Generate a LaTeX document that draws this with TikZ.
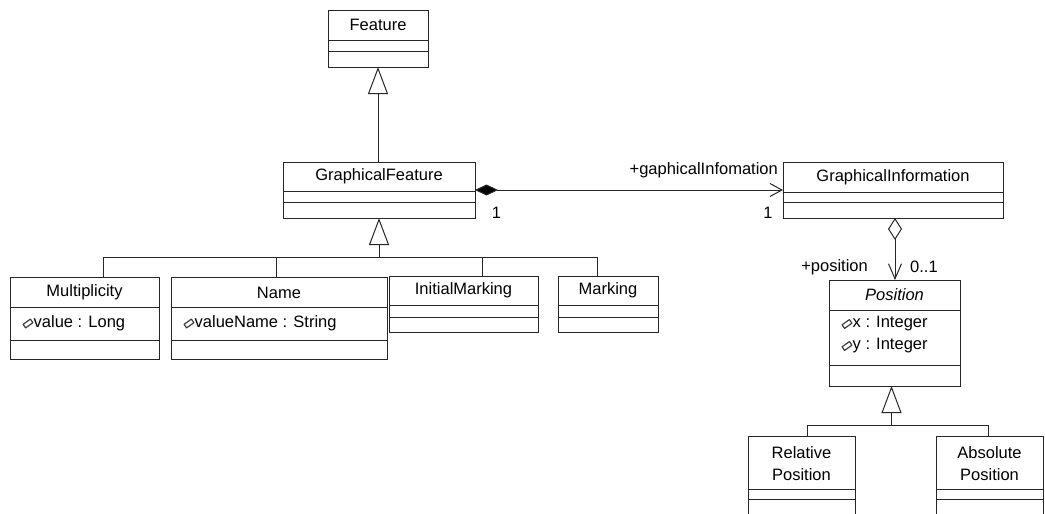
\documentclass[tikz,border=0pt]{standalone}
\usepackage{fontspec}
\setmainfont{Liberation Sans}
\usetikzlibrary{arrows.meta}

\tikzset{
  cls/.style={draw=black!85, line width=1pt, rectangle, inner sep=0pt, outer sep=0pt, fill=white},
  sep/.style={draw=black!85, line width=1pt},
  line/.style={draw=black!85, line width=1pt},
  gen/.style={line, -{Triangle[open, length=27pt, width=20pt, line width=1pt]}},
  txt/.style={inner sep=0pt, font=\fontsize{16.5}{20}\selectfont, text=black},
  attricon/.style={draw=black!75, line width=1.2pt, fill=white, line join=round},
}

% class box: name, x, y, width, height, first separator, second separator
\newcommand\umlbox[7]{%
  \node[cls, minimum width=#4pt, minimum height=#5pt, anchor=north west] (#1) at (#2,#3) {};
  \draw[sep] ([yshift=-#6pt]#1.north west) -- ([yshift=-#6pt]#1.north east);
  \draw[sep] ([yshift=-#7pt]#1.north west) -- ([yshift=-#7pt]#1.north east);
}
% public attribute marker centred on a point
\newcommand\attrmark[2]{%
  \path[attricon, shift={(#1,#2)}] (4.9,-0.8) -- (2.4,-4.4) -- (-4.9,0.8) -- (-2.4,4.4) -- cycle;
}

\begin{document}
\begin{tikzpicture}[x=1pt, y=-1pt]
\useasboundingbox (0,0) rectangle (1045,514);

% classes
\umlbox{feat}{328}{10}{100}{57}{30}{41}
\umlbox{gf}{283}{162}{192}{56}{29}{40}
\umlbox{gi}{783}{162}{220}{56}{30}{40}
\umlbox{mult}{10}{277}{149}{82}{30}{63}
\umlbox{name}{171}{277}{216}{82}{30}{63}
\umlbox{init}{389}{276}{149}{56}{29}{41}
\umlbox{mark}{558}{276}{100}{56}{29}{41}
\umlbox{pos}{829}{280}{131}{106}{30}{85}
\umlbox{rel}{748}{436}{107}{80}{53}{63}
\umlbox{abs}{936}{436}{107}{80}{53}{63}

% class names
\node[txt] (tFeat) at (378,25) {Feature};
\node[txt] (tGf) at (379,176.5) {GraphicalFeature};
\node[txt] (tGi) at (893,177) {GraphicalInformation};
\node[txt] (tMult) at (84.5,292.5) {Multiplicity};
\node[txt] (tName) at (279,292.5) {Name};
\node[txt] (tInit) at (463.5,290.5) {InitialMarking};
\node[txt] (tMark) at (608,290.5) {Marking};
\node[txt, font=\fontsize{16.5}{20}\selectfont\itshape] (tPos) at (894.5,295) {Position};
\node[txt, align=center, font=\fontsize{16.5}{22}\selectfont] (tRel) at (801.5,464) {Relative\\Position};
\node[txt, align=center, font=\fontsize{16.5}{22}\selectfont] (tAbs) at (989.5,464) {Absolute\\Position};

% attributes
\attrmark{28}{323.5}
\node[txt, anchor=west] (aMult) at (33.5,323) {value : Long};
\attrmark{189}{323.5}
\node[txt, anchor=west] (aName) at (194.5,323) {valueName : String};
\attrmark{847}{324}
\node[txt, anchor=west] (aPx) at (852.5,323.5) {x : Integer};
\attrmark{847}{346}
\node[txt, anchor=west] (aPy) at (852.5,345.5) {y : Integer};

% generalization: Feature <- GraphicalFeature
\draw[gen] (gf.north -| feat.south) -- (feat.south);

% generalization: GraphicalFeature <- its four subclasses
\coordinate (gfbus) at (gf.south |- 0,257);
\draw[line] ([xshift=93pt]mult.north west) |- (gfbus);
\draw[line] ([xshift=105pt]name.north west) |- (gfbus);
\draw[line] ([xshift=93pt]init.north west) |- (gfbus);
\draw[line] ([xshift=39pt]mark.north west) |- (gfbus);
\draw[gen] (gfbus) -- (gf.south);

% generalization: Position <- Relative/Absolute Position
\coordinate (posbus) at ([xshift=-3pt]pos.south |- 0,425.5);
\draw[line] ([xshift=59pt]rel.north west) |- (posbus);
\draw[line] ([xshift=52pt]abs.north west) |- (posbus);
\draw[gen] (posbus) -- ([xshift=-3pt]pos.south);

% composition GraphicalFeature -> GraphicalInformation
\draw[line, {Diamond[length=23pt, width=11pt, fill=black]}-{Straight Barb[length=12pt, width=13pt, line width=1pt]}]
  (gf.east) -- (gi.west);
\node[txt, anchor=east] (lGi) at (778,170) {+gaphicalInfomation};
\node[txt] (mGf) at (496.5,213) {1};
\node[txt] (mGi) at (768,213) {1};

% aggregation GraphicalInformation -> Position
\draw[line, {Diamond[open, length=22pt, width=14pt, line width=1pt]}-{Straight Barb[length=15pt, width=13pt, line width=1pt]}]
  ([xshift=2pt]gi.south) -- ([xshift=2pt]gi.south |- pos.north);
\node[txt, anchor=east] (lPos) at (868,267) {+position};
\node[txt, anchor=west] (mPos) at (910,267) {0..1};

\end{tikzpicture}
\end{document}
